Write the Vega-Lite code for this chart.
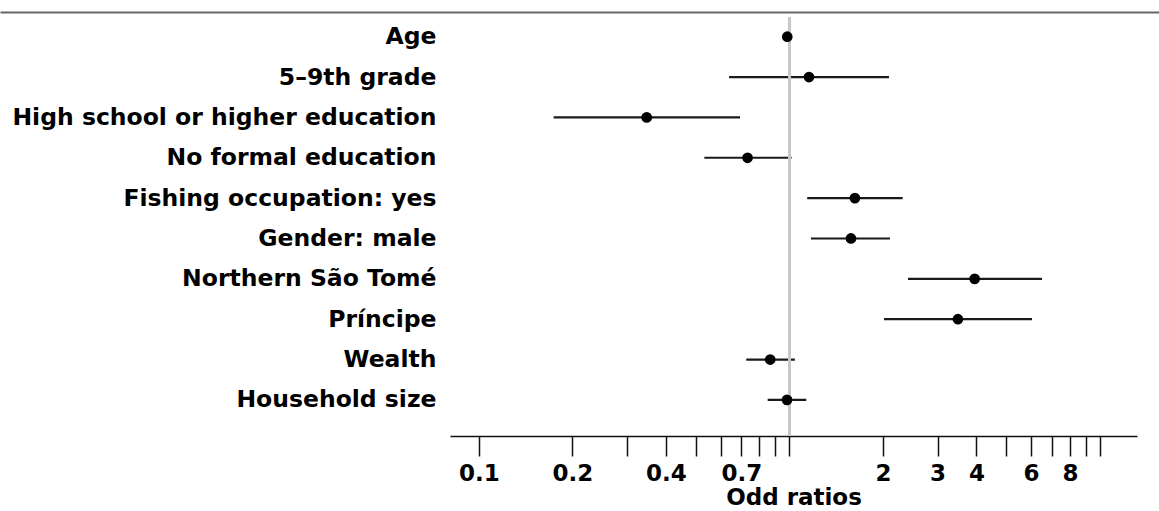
{
  "$schema": "https://vega.github.io/schema/vega-lite/v6.json",
  "width": 687,
  "height": 419,
  "autosize": {"type": "none"},
  "padding": {"left": 450, "top": 17, "right": 22, "bottom": 75},
  "background": "white",
  "config": {"view": {"stroke": null}},
  "data": {"values": [
    {"var": "Age", "or": 0.984, "lo": 0.975, "hi": 0.995},
    {"var": "5–9th grade", "or": 1.156, "lo": 0.639, "hi": 2.092},
    {"var": "High school or higher education", "or": 0.347, "lo": 0.174, "hi": 0.693},
    {"var": "No formal education", "or": 0.733, "lo": 0.532, "hi": 1.016},
    {"var": "Fishing occupation: yes", "or": 1.625, "lo": 1.141, "hi": 2.315},
    {"var": "Gender: male", "or": 1.578, "lo": 1.173, "hi": 2.107},
    {"var": "Northern São Tomé", "or": 3.949, "lo": 2.408, "hi": 6.505},
    {"var": "Príncipe", "or": 3.488, "lo": 2.016, "hi": 6.04},
    {"var": "Wealth", "or": 0.867, "lo": 0.726, "hi": 1.041},
    {"var": "Household size", "or": 0.982, "lo": 0.851, "hi": 1.133}
  ]},
  "layer": [
    {
      "layer": [
        {
          "mark": {"type": "rule", "color": "#1a1a1a", "strokeWidth": 2.2},
          "encoding": {
            "y": {"field": "var", "type": "nominal", "sort": null,
              "scale": {"type": "point", "padding": 0.691, "align": 0.353},
              "axis": {"title": null, "domain": false, "ticks": false, "labelPadding": 14,
                "labelFont": "DejaVu Sans", "labelFontWeight": "bold", "labelFontSize": 23.5,
                "labelColor": "#000", "labelLimit": 0}},
            "x": {"field": "lo", "type": "quantitative",
              "scale": {"type": "log", "domain": [0.0807, 13.16], "nice": false, "zero": false},
              "axis": {"orient": "bottom", "title": "Odd ratios",
                "values": [0.1, 0.2, 0.3, 0.4, 0.5, 0.6, 0.7, 0.8, 0.9, 1, 2, 3, 4, 5, 6, 7, 8, 9, 10],
                "labelExpr": "indexof([0.1, 0.2, 0.4, 0.7, 2, 3, 4, 6, 8], datum.value) >= 0 ? toString(datum.value) : ''",
                "labelOverlap": false, "labelFlush": false,
                "grid": false, "domainColor": "#111", "domainWidth": 1.5,
                "tickColor": "#111", "tickWidth": 1.5, "tickSize": 20,
                "labelPadding": 6, "labelFont": "DejaVu Sans", "labelFontWeight": "bold",
                "labelFontSize": 23, "labelColor": "#000",
                "titleFont": "DejaVu Sans", "titleFontWeight": "bold", "titleFontSize": 23,
                "titleColor": "#000", "titlePadding": 1}},
            "x2": {"field": "hi"}
          }
        },
        {
          "mark": {"type": "rule", "color": "#c8c8c8", "strokeWidth": 2},
          "encoding": {"x": {"datum": 1}}
        },
        {
          "mark": {"type": "circle", "color": "#000", "opacity": 1, "size": 115},
          "encoding": {
            "y": {"field": "var", "type": "nominal", "sort": null},
            "x": {"field": "or", "type": "quantitative"}
          }
        }
      ]
    },
    {
      "data": {"values": [{"a": 0}]},
      "mark": {"type": "rule", "opacity": 0},
      "encoding": {
        "x": {"datum": 0, "type": "quantitative",
          "scale": {"type": "linear", "domain": [0, 1], "range": [-450, 709]},
          "axis": {"orient": "top", "domain": true, "domainColor": "#666", "domainWidth": 2,
            "ticks": false, "labels": false, "grid": false, "title": null, "offset": 5}}
      }
    }
  ],
  "resolve": {"scale": {"x": "independent"}, "axis": {"x": "independent"}}
}
